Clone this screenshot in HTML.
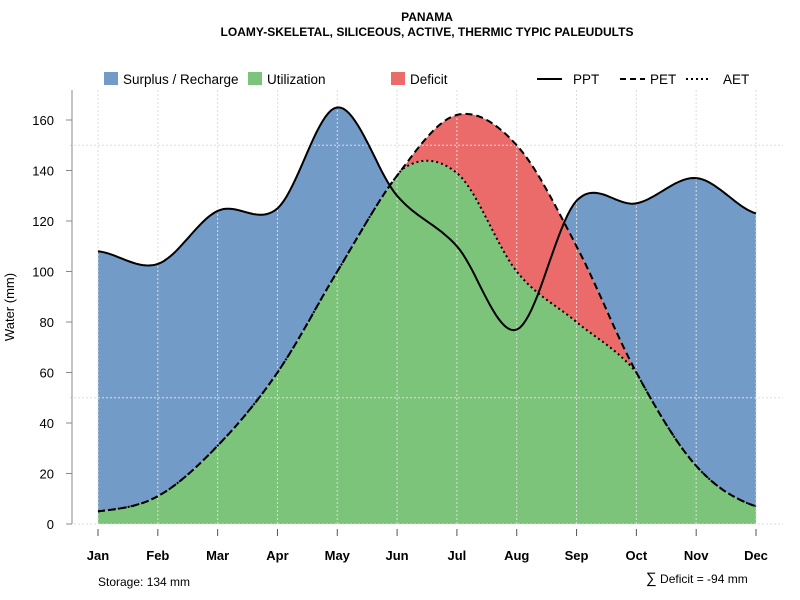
<!DOCTYPE html>
<html><head><meta charset="utf-8"><style>
body{margin:0;background:#fff}
svg{display:block;font-family:"Liberation Sans",sans-serif}
</style></head><body>
<svg id="chart" width="800" height="600">
<text x="427" y="21" text-anchor="middle" font-size="12" font-weight="bold">PANAMA</text>
<text x="427" y="36" text-anchor="middle" font-size="12" font-weight="bold">LOAMY-SKELETAL, SILICEOUS, ACTIVE, THERMIC TYPIC PALEUDULTS</text>
<g id="plot"></g>
<g font-size="13.5">
<g><rect x="104" y="72" width="14" height="13" fill="#729bc8"/><text x="123" y="84">Surplus / Recharge</text></g>
<g><rect x="248" y="72" width="14" height="13" fill="#7dc47b"/><text x="267" y="84">Utilization</text></g>
<g><rect x="391" y="72" width="14" height="13" fill="#eb6b6b"/><text x="410" y="84">Deficit</text></g>
<g><line x1="537" y1="79" x2="562" y2="79" stroke="#000" stroke-width="2"/><text x="573" y="84">PPT</text></g>
<g><line x1="620" y1="79" x2="645" y2="79" stroke="#000" stroke-width="2" stroke-dasharray="6,4"/><text x="650" y="84">PET</text></g>
<g><line x1="686" y1="79" x2="711" y2="79" stroke="#000" stroke-width="2" stroke-dasharray="2,3"/><text x="723" y="84">AET</text></g>
</g>
<text x="98" y="586" font-size="12">Storage: 134 mm</text>
<text x="646" y="583" font-size="12"><tspan font-size="15">∑</tspan> Deficit = -94 mm</text>
<text transform="translate(14,307) rotate(-90)" text-anchor="middle" font-size="13">Water (mm)</text>
</svg>
<script>
const months=["Jan","Feb","Mar","Apr","May","Jun","Jul","Aug","Sep","Oct","Nov","Dec"];
const ppt=[108,103,124,125,165,130,110,77,128,127,137,123];
const pet=[5,11,31,60,100,138,162,150,110,60,23,7];
const aet=[5,11,31,60,100,139,139,100,80,60,23,7];
const yTicks=[0,20,40,60,80,100,120,140,160];
const NS="http://www.w3.org/2000/svg";
const g=document.getElementById('plot');
const x=i=>98+i*(756-98)/11;
const y=v=>524-v*(404/160);
function mk(t,a,p){const e=document.createElementNS(NS,t);for(const k in a)e.setAttribute(k,a[k]);(p||g).appendChild(e);return e;}
function dense(arr){const out=[];const n=arr.length;for(let i=0;i<n-1;i++){const p0=arr[Math.max(0,i-1)],p1=arr[i],p2=arr[i+1],p3=arr[Math.min(n-1,i+2)];for(let s=0;s<20;s++){const t=s/20;const v=0.5*((2*p1)+(-p0+p2)*t+(2*p0-5*p1+4*p2-p3)*t*t+(-p0+3*p1-3*p2+p3)*t*t*t);out.push([i+t,v]);}}out.push([n-1,arr[n-1]]);return out;}
const P=dense(ppt),E=dense(pet),A=dense(aet).map((d,k)=>[d[0],Math.min(d[1],E[k][1])]);
function poly(lo,hi,fill,name){let d='';hi.forEach((p,k)=>{d+=(k?'L':'M')+x(p[0]).toFixed(1)+','+y(p[1]).toFixed(1);});for(let k=lo.length-1;k>=0;k--)d+='L'+x(lo[k][0]).toFixed(1)+','+y(lo[k][1]).toFixed(1);const e=mk('path',{d:d+'Z',fill:fill});

}
poly(A.map(p=>[p[0],0]),A,'#7dc47b','utilization-area');
poly(A,E,'#eb6b6b','deficit-area');
const lo=A.map((p,k)=>[p[0],Math.max(p[1],E[k][1])]);
poly(lo,P.map((p,k)=>[p[0],Math.max(p[1],lo[k][1])]),'#729bc8','surplus-area');
months.forEach((m,i)=>{const l=mk('line',{x1:x(i),x2:x(i),y1:90,y2:524,stroke:'#ddd','stroke-dasharray':'2,2'});

});
[0,50,150].forEach(v=>{const l=mk('line',{x1:70,x2:783,y1:y(v),y2:y(v),stroke:'#ddd','stroke-dasharray':'2,2'});

});
function line(D,dash,name){let d='';D.forEach((p,k)=>{d+=(k?'L':'M')+x(p[0]).toFixed(1)+','+y(p[1]).toFixed(1);});const e=mk('path',{d:d,fill:'none',stroke:'#000','stroke-width':2,'stroke-dasharray':dash});

}
line(A,'2,3','aet-line');line(E,'7,4','pet-line');line(P,'none','ppt-line');
const ax=mk('line',{x1:72,x2:72,y1:90,y2:524,stroke:'#888'});


yTicks.forEach(v=>{mk('line',{x1:66,x2:72,y1:y(v),y2:y(v),stroke:'#888'});const t=mk('text',{x:54,y:y(v)+5,'text-anchor':'end','font-size':13});t.textContent=v;

});
months.forEach((m,i)=>{mk('line',{x1:x(i),x2:x(i),y1:529,y2:536,stroke:'#555'});const t=mk('text',{x:x(i),y:560,'text-anchor':'middle','font-size':13,'font-weight':'bold'});t.textContent=m;

});
</script>
</body></html>
